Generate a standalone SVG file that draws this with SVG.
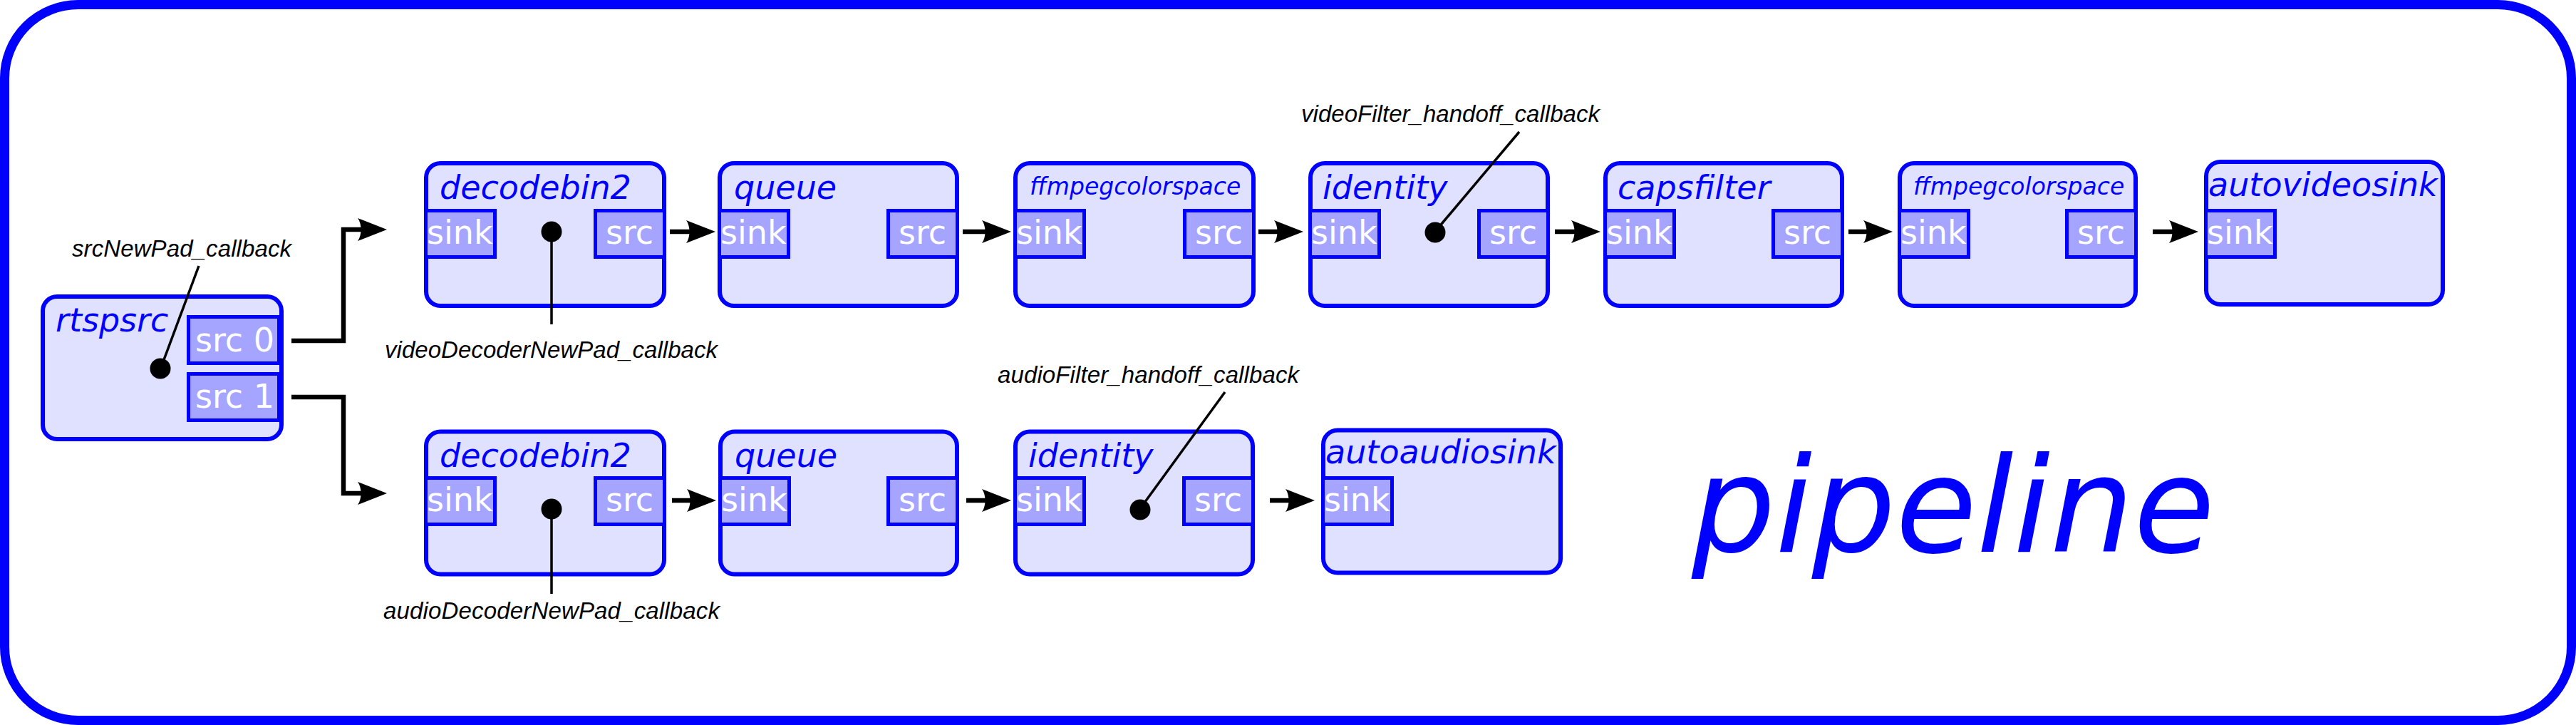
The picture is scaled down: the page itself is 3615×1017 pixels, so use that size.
<svg xmlns="http://www.w3.org/2000/svg" xmlns:xlink="http://www.w3.org/1999/xlink" width="3615" height="1017" viewBox="0 0 3615 1017">
<style>
.frame{fill:#ffffff;stroke:#0000ff;stroke-width:13}
.node{fill:#e0e0ff;stroke:#0000ff;stroke-width:6}
.pad{fill:#a5a5ff;stroke:#0000ff;stroke-width:5}
.title{font-family:"DejaVu Sans",sans-serif;font-style:italic;font-size:46px;fill:#0000ff}
.small{font-size:33px}
.padtxt{font-family:"DejaVu Sans",sans-serif;font-size:46px;fill:#ffffff}
.cb{font-family:"Liberation Sans",Arial,sans-serif;font-style:italic;font-size:33px;fill:#000000}
.wire{fill:none;stroke:#000000;stroke-width:6.5;stroke-linejoin:miter}
.lead{fill:none;stroke:#000000;stroke-width:3.5}
.dot{fill:#000000}
.big{font-family:"DejaVu Sans",sans-serif;font-style:italic;font-size:185px;fill:#0000ff}
</style>
<defs>
<path id="ah" d="M0,0 L-41,-16 C-35,-8 -35,8 -41,16 Z" fill="#000000"/>
</defs>
<rect x="0" y="0" width="3615" height="1017" fill="#ffffff"/>
<rect class="frame" x="6.5" y="6.5" width="3602" height="1004" rx="103" ry="103"/>

<g id="rtspsrc">
<rect class="node" x="60" y="416" width="335" height="200" rx="20"/>
<rect class="pad" x="264.5" y="444.5" width="127" height="65"/>
<rect class="pad" x="264.5" y="524.5" width="127" height="65"/>
<text class="title" x="78" y="465">rtspsrc</text>
<text class="padtxt" x="274" y="493">src 0</text>
<text class="padtxt" x="274" y="572">src 1</text>
</g>

<g id="v_decodebin2">
<rect class="node" x="598" y="229" width="334" height="200" rx="20"/>
<rect class="pad" x="597.5" y="295.5" width="97" height="65"/>
<rect class="pad" x="835.5" y="295.5" width="97" height="65"/>
<text class="title" x="617" y="279">decodebin2</text>
<text class="padtxt" x="599" y="342">sink</text>
<text class="padtxt" x="850" y="342">src</text>
</g>

<g id="v_queue">
<rect class="node" x="1010" y="229" width="333" height="200" rx="20"/>
<rect class="pad" x="1009.5" y="295.5" width="97" height="65"/>
<rect class="pad" x="1246.5" y="295.5" width="97" height="65"/>
<text class="title" x="1030" y="279">queue</text>
<text class="padtxt" x="1011" y="342">sink</text>
<text class="padtxt" x="1261" y="342">src</text>
</g>

<g id="v_ffmpegcolorspace1">
<rect class="node" x="1425" y="229" width="334" height="200" rx="20"/>
<rect class="pad" x="1424.5" y="295.5" width="97" height="65"/>
<rect class="pad" x="1662.5" y="295.5" width="97" height="65"/>
<text class="title small" x="1445" y="273">ffmpegcolorspace</text>
<text class="padtxt" x="1426" y="342">sink</text>
<text class="padtxt" x="1677" y="342">src</text>
</g>

<g id="v_identity">
<rect class="node" x="1839" y="229" width="333" height="200" rx="20"/>
<rect class="pad" x="1838.5" y="295.5" width="97" height="65"/>
<rect class="pad" x="2075.5" y="295.5" width="97" height="65"/>
<text class="title" x="1856" y="279">identity</text>
<text class="padtxt" x="1840" y="342">sink</text>
<text class="padtxt" x="2090" y="342">src</text>
</g>

<g id="v_capsfilter">
<rect class="node" x="2253" y="229" width="332" height="200" rx="20"/>
<rect class="pad" x="2252.5" y="295.5" width="97" height="65"/>
<rect class="pad" x="2488.5" y="295.5" width="97" height="65"/>
<text class="title" x="2270" y="279">capsfilter</text>
<text class="padtxt" x="2254" y="342">sink</text>
<text class="padtxt" x="2503" y="342">src</text>
</g>

<g id="v_ffmpegcolorspace2">
<rect class="node" x="2666" y="229" width="331" height="200" rx="20"/>
<rect class="pad" x="2665.5" y="295.5" width="97" height="65"/>
<rect class="pad" x="2900.5" y="295.5" width="97" height="65"/>
<text class="title small" x="2685" y="273">ffmpegcolorspace</text>
<text class="padtxt" x="2667" y="342">sink</text>
<text class="padtxt" x="2915" y="342">src</text>
</g>

<g id="v_autovideosink">
<rect class="node" x="3096" y="227" width="332" height="200" rx="20"/>
<rect class="pad" x="3095.5" y="295.5" width="97" height="65"/>
<text class="title" x="3099" y="275">autovideosink</text>
<text class="padtxt" x="3097" y="342">sink</text>
</g>

<g id="a_decodebin2">
<rect class="node" x="598" y="605.5" width="334" height="200" rx="20"/>
<rect class="pad" x="597.5" y="670.5" width="97" height="65"/>
<rect class="pad" x="835.5" y="670.5" width="97" height="65"/>
<text class="title" x="617" y="655">decodebin2</text>
<text class="padtxt" x="599" y="717">sink</text>
<text class="padtxt" x="850" y="717">src</text>
</g>

<g id="a_queue">
<rect class="node" x="1011" y="605.5" width="332" height="200" rx="20"/>
<rect class="pad" x="1010.5" y="670.5" width="97" height="65"/>
<rect class="pad" x="1246.5" y="670.5" width="97" height="65"/>
<text class="title" x="1031" y="655">queue</text>
<text class="padtxt" x="1012" y="717">sink</text>
<text class="padtxt" x="1261" y="717">src</text>
</g>

<g id="a_identity">
<rect class="node" x="1425" y="605.5" width="333" height="200" rx="20"/>
<rect class="pad" x="1424.5" y="670.5" width="97" height="65"/>
<rect class="pad" x="1661.5" y="670.5" width="97" height="65"/>
<text class="title" x="1443" y="655">identity</text>
<text class="padtxt" x="1426" y="717">sink</text>
<text class="padtxt" x="1676" y="717">src</text>
</g>

<g id="a_autoaudiosink">
<rect class="node" x="1857" y="603.5" width="333" height="200" rx="20"/>
<rect class="pad" x="1856.5" y="670.5" width="97" height="65"/>
<text class="title" x="1860" y="650">autoaudiosink</text>
<text class="padtxt" x="1858" y="717">sink</text>
</g>

<g id="connectors">
<path class="wire" d="M409,478 H482 V322 H510"/>
<use xlink:href="#ah" x="543" y="322"/>
<path class="wire" d="M409,557 H482 V692 H510"/>
<use xlink:href="#ah" x="543" y="692"/>

<path class="wire" d="M940,325 H975"/><use xlink:href="#ah" x="1004" y="325"/>
<path class="wire" d="M1351,325 H1390"/><use xlink:href="#ah" x="1419" y="325"/>
<path class="wire" d="M1766,325 H1800"/><use xlink:href="#ah" x="1829" y="325"/>
<path class="wire" d="M2182,325 H2217"/><use xlink:href="#ah" x="2246" y="325"/>
<path class="wire" d="M2594,325 H2627"/><use xlink:href="#ah" x="2656" y="325"/>
<path class="wire" d="M3021,325 H3056"/><use xlink:href="#ah" x="3085" y="325"/>

<path class="wire" d="M943,702 H976"/><use xlink:href="#ah" x="1005" y="702"/>
<path class="wire" d="M1356,702 H1390"/><use xlink:href="#ah" x="1419" y="702"/>
<path class="wire" d="M1782,702 H1816"/><use xlink:href="#ah" x="1845" y="702"/>
</g>

<g id="callbacks">
<circle class="dot" cx="225" cy="517" r="14.5"/>
<line class="lead" x1="228" y1="510" x2="279" y2="373"/>
<text class="cb" x="101" y="360" textLength="308">srcNewPad_callback</text>

<circle class="dot" cx="774" cy="325" r="14.5"/>
<line class="lead" x1="774" y1="325" x2="774" y2="455"/>
<text class="cb" x="540" y="502" textLength="467">videoDecoderNewPad_callback</text>

<circle class="dot" cx="774" cy="714" r="14.5"/>
<line class="lead" x1="774" y1="714" x2="774" y2="833"/>
<text class="cb" x="538" y="868" textLength="472">audioDecoderNewPad_callback</text>

<circle class="dot" cx="2014" cy="326" r="14.5"/>
<line class="lead" x1="2018" y1="320" x2="2132" y2="185"/>
<text class="cb" x="1826" y="171" textLength="419">videoFilter_handoff_callback</text>

<circle class="dot" cx="1600" cy="715" r="14.5"/>
<line class="lead" x1="1604" y1="708" x2="1719" y2="550"/>
<text class="cb" x="1400" y="537" textLength="423">audioFilter_handoff_callback</text>
</g>

<text class="big" x="2374" y="774">pipeline</text>
</svg>
